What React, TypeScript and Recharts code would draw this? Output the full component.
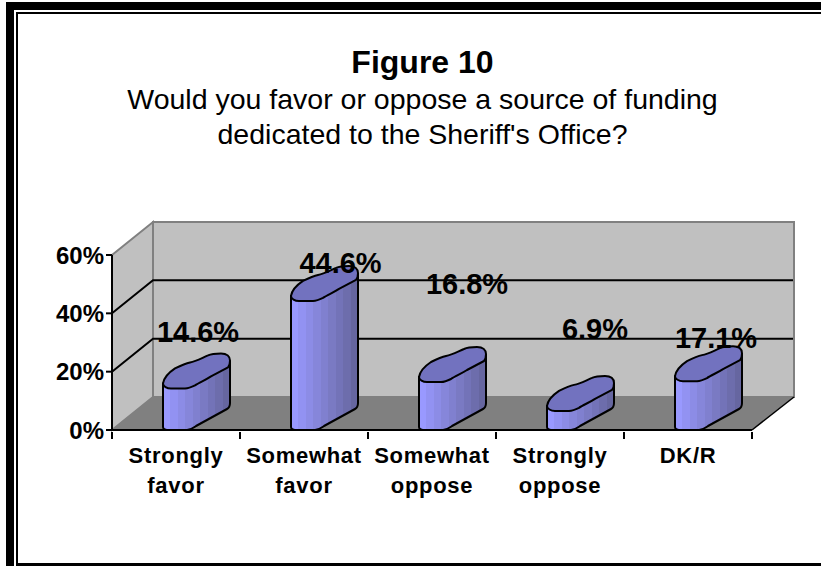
import React from 'react';
import { BarChart, Bar, XAxis, YAxis, ReferenceArea, LabelList } from 'recharts';

const categories = ['Strongly favor', 'Somewhat favor', 'Somewhat oppose', 'Strongly oppose', 'DK/R'];
const percents = [14.6, 44.6, 16.8, 6.9, 17.1];
const percentTicks = [0, 20, 40, 60];
const titleLines = ['Would you favor or oppose a source of funding', "dedicated to the Sheriff's Office?"];

// hand placed data labels, relative to the bar's top centre
const labelNudgeX = [22, 36.5, 35, 35, 28];
const labelNudgeY = [-45.4, -27, -87, -71, -32];

const data = categories.map((name, i) => ({ name, value: percents[i] }));

const FONT = '"Liberation Sans", Arial, sans-serif';
const DEPTH_X = 41;
const DEPTH_Y = 33;
const BAR_STEPS = ['#9999ff', '#9292f2', '#8c8ce6', '#8686da', '#8080cf', '#7a7ac3', '#7373b8', '#6d6dac', '#6666a0'];

// side wall, back wall and floor of the 3D box
const Walls = ({ x, y, width, height }: any) => {
  const bottom = y + height;
  const right = x + width;
  const max = percentTicks[percentTicks.length - 1];
  return (
    <g>
      <polygon
        points={`${x},${y} ${x + DEPTH_X},${y - DEPTH_Y} ${x + DEPTH_X},${bottom - DEPTH_Y} ${x},${bottom}`}
        fill="#c0c0c0"
        stroke="#808080"
        strokeWidth={2}
      />
      <rect x={x + DEPTH_X} y={y - DEPTH_Y} width={width + 1} height={height} fill="#c0c0c0" stroke="#808080" strokeWidth={2} />
      <polygon
        points={`${x},${bottom} ${right},${bottom} ${right + DEPTH_X + 1},${bottom - DEPTH_Y} ${x + DEPTH_X},${bottom - DEPTH_Y}`}
        fill="#808080"
      />
      <line x1={right} y1={bottom} x2={right + DEPTH_X + 1} y2={bottom - DEPTH_Y} stroke="#000" strokeWidth={1.5} />
      {percentTicks.slice(1, -1).map((t) => {
        const ty = bottom - (t / max) * height;
        return (
          <g key={t} stroke="#000" strokeWidth={2} fill="none">
            <polyline points={`${x},${ty} ${x + DEPTH_X},${ty - DEPTH_Y} ${right + DEPTH_X},${ty - DEPTH_Y}`} />
          </g>
        );
      })}
    </g>
  );
};

// lumpy extruded column: body first, then the lid on top
const Column = ({ x, y, width, height, index }: any) => {
  const k = width / 26;
  const X = (n: number) => x + n * k;
  const top = y + 1;
  const base = y + height;
  const body = [
    `M${X(0)} ${top - 5}`,
    `L${X(0)} ${base - 3}`,
    `C${X(0)} ${base - 1} ${X(3)} ${base} ${X(6)} ${base}`,
    `L${X(24)} ${base}`,
    `C${X(28)} ${base} ${X(30)} ${base - 2} ${X(33)} ${base - 4}`,
    `L${X(64)} ${base - 21}`,
    `C${X(66)} ${base - 22} ${X(67)} ${base - 24} ${X(67)} ${base - 27}`,
    `L${X(67)} ${top - 27}`,
    'Z',
  ].join(' ');
  const lid = [
    `M${X(0)} ${top - 5}`,
    `C${X(1)} ${top - 11} ${X(6)} ${top - 16} ${X(12)} ${top - 20}`,
    `C${X(18)} ${top - 23} ${X(22)} ${top - 25} ${X(27)} ${top - 26}`,
    `C${X(33)} ${top - 27} ${X(38)} ${top - 30} ${X(45)} ${top - 33}`,
    `C${X(49)} ${top - 35} ${X(54)} ${top - 35} ${X(58)} ${top - 35}`,
    `C${X(64)} ${top - 35} ${X(67)} ${top - 32} ${X(67)} ${top - 28}`,
    `C${X(67)} ${top - 25} ${X(67)} ${top - 23} ${X(65)} ${top - 21}`,
    `L${X(48)} ${top - 12}`,
    `C${X(42)} ${top - 8} ${X(36)} ${top - 6} ${X(32)} ${top - 3}`,
    `C${X(28)} ${top - 1} ${X(25)} ${top} ${X(22)} ${top}`,
    `L${X(8)} ${top}`,
    `C${X(4)} ${top} ${X(0)} ${top - 2} ${X(0)} ${top - 5}`,
    'Z',
  ].join(' ');
  return (
    <g key={index} stroke="#000" strokeWidth={2} strokeLinejoin="round">
      <path d={body} fill="url(#columnSteps)" />
      <path d={lid} fill="#7272bf" />
    </g>
  );
};

// category label plus the tick marks on the band edges
const CategoryTick = ({ x, y, payload, index, width }: any) => {
  const band = width / categories.length;
  const axisY = y - 6;
  const words = String(payload.value).split(' ');
  return (
    <g>
      {index === 0 && <line x1={x - band / 2} x2={x - band / 2} y1={axisY} y2={axisY + 7} stroke="#000" strokeWidth={2} />}
      <line x1={x + band / 2} x2={x + band / 2} y1={axisY} y2={axisY + 7} stroke="#000" strokeWidth={2} />
      {words.map((w, i) => (
        <text
          key={w}
          x={x}
          y={463 + i * 30}
          textAnchor="middle"
          fontFamily={FONT}
          fontWeight="bold"
          fontSize={22}
          letterSpacing={0.7}
          fill="#000"
        >
          {w}
        </text>
      ))}
    </g>
  );
};

const ValueLabel = ({ x, y, width, value, index }: any) => (
  <text
    x={x + width / 2 + labelNudgeX[index]}
    y={y + labelNudgeY[index]}
    textAnchor="middle"
    fontFamily={FONT}
    fontWeight="bold"
    fontSize={29}
    fill="#000"
  >
    {value}%
  </text>
);

export default function App() {
  return (
    <div style={{ position: 'absolute', left: 0, top: 0, width: 821, height: 566, background: '#fff', overflow: 'hidden' }}>
      {/* double frame, open on the right */}
      <div style={{ position: 'absolute', left: 6, top: 2, width: 815, height: 8, background: '#000' }} />
      <div style={{ position: 'absolute', left: 6, top: 2, width: 8, height: 564, background: '#000' }} />
      <div style={{ position: 'absolute', left: 16, top: 12, width: 805, height: 2, background: '#000' }} />
      <div style={{ position: 'absolute', left: 16, top: 12, width: 2, height: 554, background: '#000' }} />
      <div style={{ position: 'absolute', left: 16, top: 563, width: 805, height: 3, background: '#000' }} />

      <div style={{ position: 'absolute', left: 0, width: 845, top: 42, textAlign: 'center', fontFamily: FONT, color: '#000' }}>
        <div style={{ fontWeight: 'bold', fontSize: 32, lineHeight: '40px' }}>Figure 10</div>
        {titleLines.map((line) => (
          <div key={line} style={{ fontSize: 28.5, lineHeight: '34.5px' }}>
            {line}
          </div>
        ))}
      </div>

      <div style={{ position: 'absolute', left: 0, top: 0 }}>
        <BarChart width={821} height={566} data={data} margin={{ top: 255, right: 69, bottom: 0, left: 0 }} barSize={26}>
          <defs>
            <linearGradient id="columnSteps" x1="0" y1="0" x2="1" y2="0">
              {BAR_STEPS.flatMap((c, i) => [
                <stop key={`${i}a`} offset={i / BAR_STEPS.length} stopColor={c} />,
                <stop key={`${i}b`} offset={(i + 1) / BAR_STEPS.length} stopColor={c} />,
              ])}
            </linearGradient>
          </defs>
          <ReferenceArea y1={0} y2={60} shape={<Walls />} />
          <XAxis
            dataKey="name"
            height={136}
            interval={0}
            tickLine={false}
            axisLine={{ stroke: '#000', strokeWidth: 2 }}
            tick={<CategoryTick />}
          />
          <YAxis
            width={112}
            domain={[0, 60]}
            ticks={percentTicks}
            tickFormatter={(v) => `${v}%`}
            tickSize={6}
            tickMargin={2}
            tickLine={{ stroke: '#000', strokeWidth: 2 }}
            axisLine={{ stroke: '#000', strokeWidth: 2 }}
            tick={{ fill: '#000', fontFamily: FONT, fontWeight: 'bold', fontSize: 24 }}
          />
          <Bar dataKey="value" isAnimationActive={false} shape={<Column />}>
            <LabelList dataKey="value" content={<ValueLabel />} />
          </Bar>
        </BarChart>
      </div>
    </div>
  );
}
